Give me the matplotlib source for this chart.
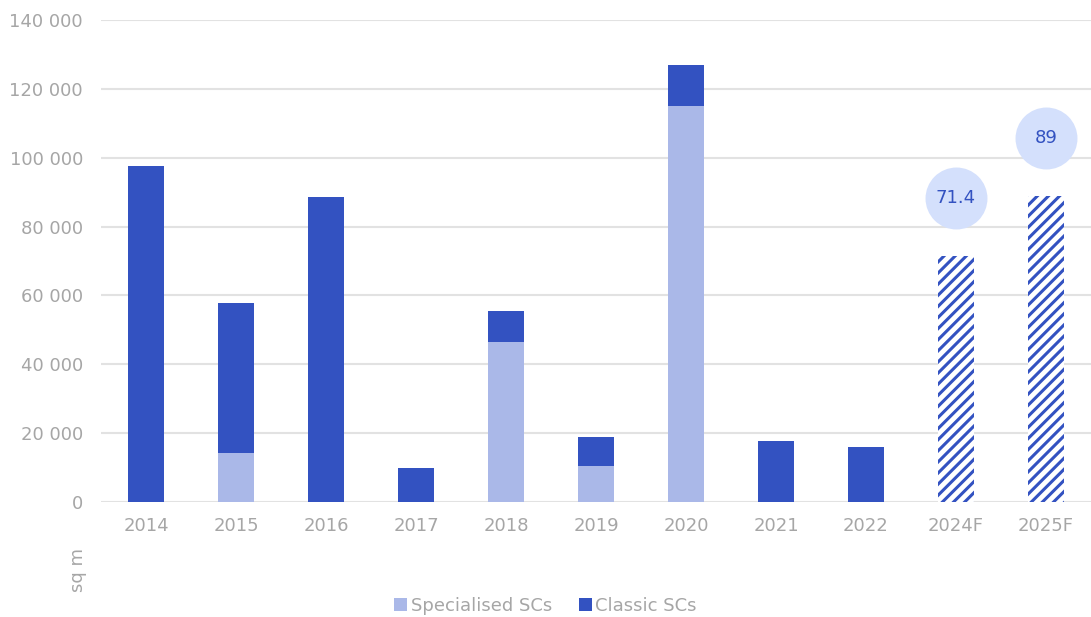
import matplotlib.pyplot as plt
from matplotlib.transforms import ScaledTranslation

plt.rcParams['font.family'] = ['DejaVu Sans']
plt.rcParams['hatch.linewidth'] = 2.2

years = ['2014', '2015', '2016', '2017', '2018', '2019', '2020', '2021', '2022', '2024F', '2025F']
specialised = [0, 14200, 0, 0, 46500, 10500, 115000, 0, 0, 0, 0]
classic = [97500, 43600, 88700, 10000, 9000, 8400, 11900, 17700, 16000, 0, 0]
forecast = [0, 0, 0, 0, 0, 0, 0, 0, 0, 71400, 89000]
forecast_labels = ['', '', '', '', '', '', '', '', '', '71.4', '89']

blue = '#3352c1'
light = '#aab8e8'
bubble = '#d4e0fc'
grey = '#a6a6a6'

fig = plt.figure(figsize=(10.91, 6.17), dpi=100)
ax = fig.add_axes([101/1091, 1-502/617, 1-101/1091, (502-20)/617])

x = range(len(years))
w = 0.41
ax.bar(x, specialised, w, color=light, label='Specialised SCs', zorder=2)
ax.bar(x, classic, w, bottom=specialised, color=blue, label='Classic SCs', zorder=2)
ax.bar(x, forecast, w, color='white', edgecolor=blue, hatch='///', linewidth=0, zorder=2)

# bubbles over the forecast bars
off = ScaledTranslation(0, 0.58, fig.dpi_scale_trans)
for i, (v, lab) in enumerate(zip(forecast, forecast_labels)):
    if not lab:
        continue
    ax.plot(i, v, 'o', ms=44.6, color=bubble, mec='none',
            transform=ax.transData + off, clip_on=False, zorder=3)
    ax.text(i, v, lab, color=blue, fontsize=13, ha='center', va='center',
            transform=ax.transData + off, zorder=4)

ax.set_xlim(-0.5, len(years) - 0.5)
ax.set_ylim(0, 140000)
ax.set_yticks(range(0, 140001, 20000))
ax.set_yticklabels([f'{v:,}'.replace(',', ' ') for v in range(0, 140001, 20000)])
ax.set_xticks(list(x))
ax.set_xticklabels(years)
ax.tick_params(length=0, labelsize=13, labelcolor=grey)
ax.tick_params(axis='x', pad=11)
ax.tick_params(axis='y', pad=13)
ax.grid(axis='y', color='#e2e2e2', linewidth=1.5, zorder=0)
ax.set_axisbelow(True)
for s in ax.spines.values():
    s.set_visible(False)

fig.text(78/1091, 1-570/617, 'sq m', rotation=90, color=grey, fontsize=13,
         ha='center', va='center')

fig.legend(loc='center', bbox_to_anchor=(0.5, 1-606/617), ncol=2, frameon=False,
           fontsize=13, labelcolor=grey, handlelength=0.7, handleheight=0.7,
           handletextpad=0.2, columnspacing=1.5)

fig.savefig('out.png', dpi=100)
